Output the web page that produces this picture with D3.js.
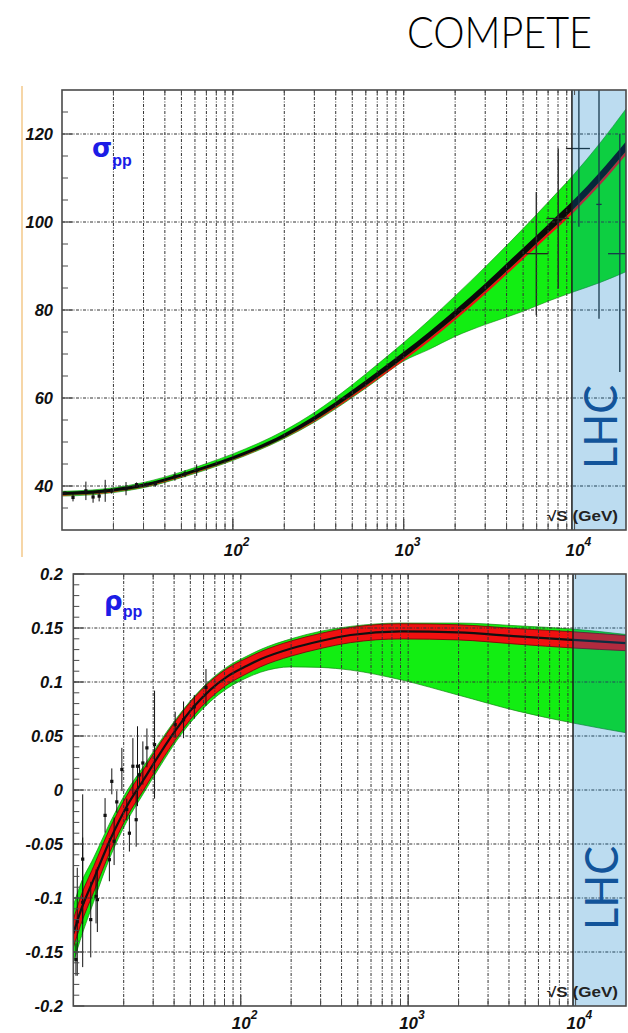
<!DOCTYPE html>
<html>
<head>
<meta charset="utf-8">
<script src="https://cdnjs.cloudflare.com/ajax/libs/d3/7.8.5/d3.min.js"></script>
<style>
body { margin: 0; background: #fff; }
</style>
</head>
<body>
<div id="cont"></div>
<script>

// Data //

var sRange = [10, 20000];
var lhcStart = 9650;

// sigma_pp fit bands (mb)
var sigS       = [10, 15, 20, 30, 50, 70, 100, 200, 300, 500, 700, 1000, 1400, 2000, 3000, 5000, 7000, 10000, 14000, 20000];
var sigGreenHi = [38.8, 39.1, 39.6, 40.8, 43.2, 45.1, 47.3, 52.6, 56.7, 63.0, 67.6, 72.6, 77.6, 83.2, 89.8, 98.5, 104.5, 111.0, 117.8, 125.7];
var sigGreenLo = [37.7, 38.0, 38.5, 39.6, 41.9, 43.7, 45.8, 50.8, 54.5, 60.1, 64.1, 68.4, 71.0, 74.0, 76.7, 79.7, 82.0, 84.2, 86.2, 88.7];
var sigBlackHi = [38.65, 38.95, 39.45, 40.55, 42.85, 44.65, 46.75, 51.95, 55.9, 61.8, 65.95, 70.5, 74.95, 80.0, 86.05, 94.1, 99.45, 105.2, 111.25, 118.3];
var sigBlackLo = [37.95, 38.25, 38.75, 39.85, 42.15, 43.95, 46.05, 51.05, 54.9, 60.6, 64.65, 69.1, 73.45, 78.4, 84.35, 92.3, 97.55, 103.2, 109.15, 116.1];
var sigRedLo   = [37.8, 38.1, 38.6, 39.7, 42.0, 43.8, 45.9, 50.9, 54.6, 60.2, 64.2, 68.55, 72.8, 77.75, 83.65, 91.55, 96.75, 102.4, 108.3, 115.25];

// sigma_pp data points
var sigPtS = [10.4, 11.6, 13.8, 15.2, 16.5, 17.9, 19.5, 23.7, 27.3, 31.3, 35.2, 45.8, 52.5, 61.4];
var sigPtV = [38.4, 37.4, 38.9, 37.5, 37.7, 38.9, 38.9, 39.4, 40.3, 40.3, 40.5, 42.2, 42.8, 43.6];
var sigPtE = [0.3, 0.9, 2.1, 1.3, 1.2, 2.5, 0.6, 1.5, 0.5, 0.5, 0.6, 1.0, 0.8, 1.3];

// cosmic ray points
var cosS   = [5970, 8020, 10600, 13900, 18400];
var cosV   = [92.8, 100.8, 116.7, 104.0, 92.8];
var cosLo  = [78.8, 84.9, 98.9, 78.0, 65.9];
var cosHi  = [106.8, 116.7, 135, 135, 120.0];
var cosSLo = [5200, 6850, 8900, 13400, 15700];
var cosSHi = [7000, 9300, 12300, 14400, 20000];

// rho_pp fit bands
var rhoS       = [10, 11, 13.2, 16.6, 20.9, 26.3, 33, 41.6, 52.4, 66, 83, 109, 131, 200, 300, 454, 906, 1980, 4520, 9660, 20000];
var rhoC       = [-0.133, -0.113, -0.083, -0.046, -0.015, 0.0095, 0.034, 0.057, 0.077, 0.093, 0.105, 0.115, 0.121, 0.131, 0.138, 0.1435, 0.1469, 0.146, 0.1422, 0.139, 0.136];
var rhoRedHi   = [-0.120, -0.100, -0.071, -0.035, -0.005, 0.019, 0.043, 0.0655, 0.085, 0.1008, 0.1125, 0.1222, 0.128, 0.138, 0.145, 0.1505, 0.1539, 0.153, 0.1494, 0.1465, 0.143];
var rhoRedLo   = [-0.146, -0.126, -0.095, -0.057, -0.025, 0.000, 0.025, 0.0485, 0.069, 0.0852, 0.0975, 0.1078, 0.114, 0.124, 0.131, 0.1365, 0.1399, 0.139, 0.135, 0.1315, 0.129];
var rhoGreenHi = [-0.107, -0.088, -0.063, -0.030, -0.001, 0.022, 0.045, 0.067, 0.086, 0.102, 0.114, 0.124, 0.130, 0.140, 0.147, 0.1515, 0.1546, 0.1546, 0.152, 0.149, 0.144];
var rhoGreenLo = [-0.160, -0.139, -0.104, -0.062, -0.029, -0.003, 0.022, 0.046, 0.066, 0.082, 0.094, 0.104, 0.109, 0.114, 0.1135, 0.111, 0.102, 0.088, 0.073, 0.062, 0.053];

// rho_pp data points
var rhoPtS = [10.37, 10.56, 11.38, 11.38, 12.71, 13.67, 13.92, 15.48, 16.42, 16.98, 17.53, 18.19, 19.5, 20.87, 21.63, 22.69, 23.74, 24.18, 24.87, 26.03, 27.52, 30.57, 40.6, 45.55, 52.8, 62.0];
var rhoPtV = [-0.157, -0.122, -0.064, -0.104, -0.12, -0.0985, -0.1015, -0.0235, -0.0645, 0.008, -0.0475, -0.011, 0.019, -0.018, -0.04, 0.022, -0.0275, 0.022, 0.014, 0.025, 0.039, 0.042, 0.0605, 0.065, 0.077, 0.095];
var rhoPtE = [0.015, 0.05, 0.06, 0.06, 0.035, 0.025, 0.03, 0.016, 0.02, 0.012, 0.022, 0.01, 0.02, 0.01, 0.017, 0.026, 0.025, 0.037, 0.01, 0.02, 0.018, 0.05, 0.012, 0.017, 0.011, 0.017];

// ticks
var gridX = [20, 30, 40, 50, 60, 70, 80, 90, 100, 200, 300, 400, 500, 600, 700, 800, 900, 1000, 2000, 3000, 4000, 5000, 6000, 7000, 8000, 9000];
var decades = [100, 1000, 10000];
var decadeExp = ["2", "3", "4"];
var sigTicks = [40, 60, 80, 100, 120];
var rhoTicks = [-0.2, -0.15, -0.1, -0.05, 0, 0.05, 0.1, 0.15, 0.2];
var rhoTickLabels = ["-0.2", "-0.15", "-0.1", "-0.05", "0", "0.05", "0.1", "0.15", "0.2"];

// SVG Stuff //

var svg = d3.select("#cont").append("svg").attr("width", 628).attr("height", 1033);

var gridDash = "3,1.5,1,1.5";
var numFont = "'Liberation Sans', Arial, sans-serif";
var thinFont = "Lato, 'Open Sans', sans-serif";

// faint slide edge
svg.append("line").attr("x1", 22).attr("x2", 22).attr("y1", 86).attr("y2", 557)
	.attr("stroke", "#f3c98a").attr("stroke-width", 1.5);

svg.append("text").attr("x", 407).attr("y", 48)
	.attr("font-family", thinFont).attr("font-weight", 300).attr("font-size", 44)
	.attr("textLength", 185).attr("lengthAdjust", "spacingAndGlyphs")
	.text("COMPETE");

var makePanel = function(id, box, yDom) {
	var p = {box: box};
	p.x = d3.scaleLog().domain(sRange).range([box.l, box.r]);
	p.y = d3.scaleLinear().domain(yDom).range([box.b, box.t]);
	svg.append("clipPath").attr("id", id).append("rect")
		.attr("x", box.l).attr("y", box.t).attr("width", box.r - box.l).attr("height", box.b - box.t);
	p.g = svg.append("g");
	p.plot = p.g.append("g").attr("clip-path", "url(#" + id + ")");
	return p;
};

var band = function(p, xs, lo, hi, fill, stroke, sw) {
	var rows = xs.map(function(s, i) { return {s: s, lo: lo[i], hi: hi[i]}; });
	var area = d3.area()
		.x(function(d) { return p.x(d.s); })
		.y0(function(d) { return p.y(d.lo); })
		.y1(function(d) { return p.y(d.hi); })
		.curve(d3.curveMonotoneX);
	p.plot.append("path").attr("d", area(rows))
		.attr("fill", fill).attr("stroke", stroke || "none").attr("stroke-width", sw || 0);
};

var grid = function(p, yVals) {
	var b = p.box;
	p.plot.selectAll(null).data(gridX).enter().append("line")
		.attr("x1", function(d) { return p.x(d); }).attr("x2", function(d) { return p.x(d); })
		.attr("y1", b.t).attr("y2", b.b)
		.attr("stroke", "#333").attr("stroke-width", 1).attr("stroke-dasharray", gridDash);
	p.plot.selectAll(null).data(yVals).enter().append("line")
		.attr("x1", b.l).attr("x2", b.r)
		.attr("y1", function(d) { return p.y(d); }).attr("y2", function(d) { return p.y(d); })
		.attr("stroke", "#333").attr("stroke-width", 1).attr("stroke-dasharray", gridDash);
};

var points = function(p, xs, vs, es) {
	var rows = xs.map(function(s, i) { return {s: s, v: vs[i], e: es[i]}; });
	var g = p.plot.append("g");
	g.selectAll(null).data(rows).enter().append("line")
		.attr("x1", function(d) { return p.x(d.s); }).attr("x2", function(d) { return p.x(d.s); })
		.attr("y1", function(d) { return p.y(d.v - d.e); }).attr("y2", function(d) { return p.y(d.v + d.e); })
		.attr("stroke", "#111").attr("stroke-width", 1);
	g.selectAll(null).data(rows).enter().append("rect")
		.attr("x", function(d) { return p.x(d.s) - 1.6; }).attr("y", function(d) { return p.y(d.v) - 1.6; })
		.attr("width", 3.2).attr("height", 3.2).attr("fill", "#111");
};

var lhc = function(p, ty) {
	var b = p.box;
	var x0 = p.x(lhcStart);
	p.g.append("rect").attr("x", x0).attr("y", b.t).attr("width", b.r - x0).attr("height", b.b - b.t)
		.attr("fill", "rgb(0,122,198)").attr("fill-opacity", 0.263);
	p.g.append("line").attr("x1", x0).attr("x2", x0).attr("y1", b.t).attr("y2", b.b)
		.attr("stroke", "#1a1a1a").attr("stroke-width", 1.5);
	p.g.append("text")
		.attr("transform", "translate(" + (x0 + 45) + "," + ty + ") rotate(-90)")
		.attr("text-anchor", "middle")
		.attr("font-family", thinFont).attr("font-weight", 400).attr("font-size", 46)
		.attr("textLength", 84).attr("lengthAdjust", "spacingAndGlyphs")
		.attr("fill", "#12549a").text("LHC");
};

var frame = function(p, minorY, majorY, yLabels, labelX, xLabelY) {
	var b = p.box;
	var g = p.g;
	g.append("rect").attr("x", b.l).attr("y", b.t).attr("width", b.r - b.l).attr("height", b.b - b.t)
		.attr("fill", "none").attr("stroke", "#4a4a4a").attr("stroke-width", 1.6);
	g.selectAll(null).data(minorY).enter().append("line")
		.attr("x1", b.l).attr("x2", b.l + 6)
		.attr("y1", function(d) { return p.y(d); }).attr("y2", function(d) { return p.y(d); })
		.attr("stroke", "#4a4a4a").attr("stroke-width", 1);
	g.selectAll(null).data(majorY).enter().append("line")
		.attr("x1", b.l).attr("x2", b.l + 11)
		.attr("y1", function(d) { return p.y(d); }).attr("y2", function(d) { return p.y(d); })
		.attr("stroke", "#4a4a4a").attr("stroke-width", 1.2);
	var xt = gridX.concat(decades).filter(function(d) { return d < lhcStart || d === 10000; });
	g.selectAll(null).data(xt).enter().append("line")
		.attr("x1", function(d) { return p.x(d); }).attr("x2", function(d) { return p.x(d); })
		.attr("y1", b.b).attr("y2", function(d) { return decades.indexOf(d) >= 0 ? b.b - 11 : b.b - 7; })
		.attr("stroke", "#4a4a4a").attr("stroke-width", 1);
	g.selectAll(null).data(xt).enter().append("line")
		.attr("x1", function(d) { return p.x(d); }).attr("x2", function(d) { return p.x(d); })
		.attr("y1", b.t).attr("y2", b.t + 5)
		.attr("stroke", "#4a4a4a").attr("stroke-width", 1);

	g.selectAll(null).data(yLabels).enter().append("text")
		.attr("x", labelX).attr("y", function(d) { return p.y(d.v) + 6; })
		.attr("text-anchor", "end")
		.attr("font-family", numFont).attr("font-weight", "bold").attr("font-style", "italic")
		.attr("font-size", 16.5).attr("fill", "#111")
		.text(function(d) { return d.t; });

	var xl = g.selectAll(null).data(decades).enter().append("text")
		.attr("x", function(d) { return p.x(d) - 9; }).attr("y", xLabelY)
		.attr("font-family", numFont).attr("font-weight", "bold").attr("font-style", "italic")
		.attr("font-size", 17).attr("fill", "#111");
	xl.append("tspan").text("10");
	xl.append("tspan").attr("dy", -10).attr("font-size", 12)
		.text(function(d, i) { return decadeExp[i]; });

	g.append("text").attr("x", 618).attr("y", b.b - 9)
		.attr("text-anchor", "end")
		.attr("font-family", numFont).attr("font-weight", "bold").attr("font-size", 14)
		.attr("textLength", 71).attr("lengthAdjust", "spacingAndGlyphs")
		.attr("fill", "#222").text("\u221AS (GeV)");
};

// sigma panel
var top1 = makePanel("clipTop", {l: 62, r: 626, t: 90, b: 530}, [30, 130]);

band(top1, sigS, sigGreenLo, sigGreenHi, "#12ee12", "#138a13", 0.6);
band(top1, sigS, sigRedLo, sigBlackLo, "#ee1111");
band(top1, sigS, sigBlackLo, sigBlackHi, "#0a0a0a");
points(top1, sigPtS, sigPtV, sigPtE);

var cos = cosS.map(function(s, i) {
	return {s: s, v: cosV[i], lo: cosLo[i], hi: cosHi[i], sl: cosSLo[i], sh: cosSHi[i]};
});
top1.plot.selectAll(null).data(cos).enter().append("line")
	.attr("x1", function(d) { return top1.x(d.s); }).attr("x2", function(d) { return top1.x(d.s); })
	.attr("y1", function(d) { return top1.y(d.lo); }).attr("y2", function(d) { return top1.y(d.hi); })
	.attr("stroke", "#222").attr("stroke-width", 1.3);
top1.plot.selectAll(null).data(cos).enter().append("line")
	.attr("x1", function(d) { return top1.x(d.sl); }).attr("x2", function(d) { return top1.x(d.sh); })
	.attr("y1", function(d) { return top1.y(d.v); }).attr("y2", function(d) { return top1.y(d.v); })
	.attr("stroke", "#222").attr("stroke-width", 1.3);

grid(top1, sigTicks);
lhc(top1, 427);
frame(top1, d3.range(35, 130, 5).filter(function(d) { return d % 20 !== 0; }), sigTicks,
	sigTicks.map(function(v) { return {v: v, t: String(v)}; }), 53, 556);

var sigLab = top1.g.append("text").attr("x", 92).attr("y", 157).attr("fill", "#1c1ce6")
	.attr("font-family", "'DejaVu Sans', sans-serif");
sigLab.append("tspan").attr("font-size", 26).attr("font-weight", "bold").text("\u03C3");
sigLab.append("tspan").attr("dy", 9).attr("font-size", 16).attr("font-weight", "bold")
	.attr("font-family", numFont).text("pp");

// rho panel
var bot = makePanel("clipBot", {l: 73.3, r: 626, t: 574, b: 1006}, [-0.2, 0.2]);

band(bot, rhoS, rhoGreenLo, rhoGreenHi, "#12ee12", "#138a13", 0.7);
band(bot, rhoS, rhoRedLo, rhoRedHi, "#f01010", "#7a0a0a", 0.9);
bot.plot.append("path")
	.attr("d", d3.line()
		.x(function(d, i) { return bot.x(rhoS[i]); })
		.y(function(d) { return bot.y(d); })
		.curve(d3.curveMonotoneX)(rhoC))
	.attr("fill", "none").attr("stroke", "#111").attr("stroke-width", 2.2);
points(bot, rhoPtS, rhoPtV, rhoPtE);

grid(bot, [-0.15, -0.1, -0.05, 0, 0.05, 0.1, 0.15]);
lhc(bot, 888);
frame(bot, d3.range(-19, 20).map(function(d) { return d / 100; }), rhoTicks,
	rhoTicks.map(function(v, i) { return {v: v, t: rhoTickLabels[i]}; }), 63, 1029);

var rhoLab = bot.g.append("text").attr("x", 104).attr("y", 610).attr("fill", "#1c1ce6")
	.attr("font-family", "'DejaVu Sans', sans-serif");
rhoLab.append("tspan").attr("font-size", 26).attr("font-weight", "bold").text("\u03C1");
rhoLab.append("tspan").attr("dy", 7).attr("font-size", 16).attr("font-weight", "bold")
	.attr("font-family", numFont).text("pp");

</script>
</body>
</html>
